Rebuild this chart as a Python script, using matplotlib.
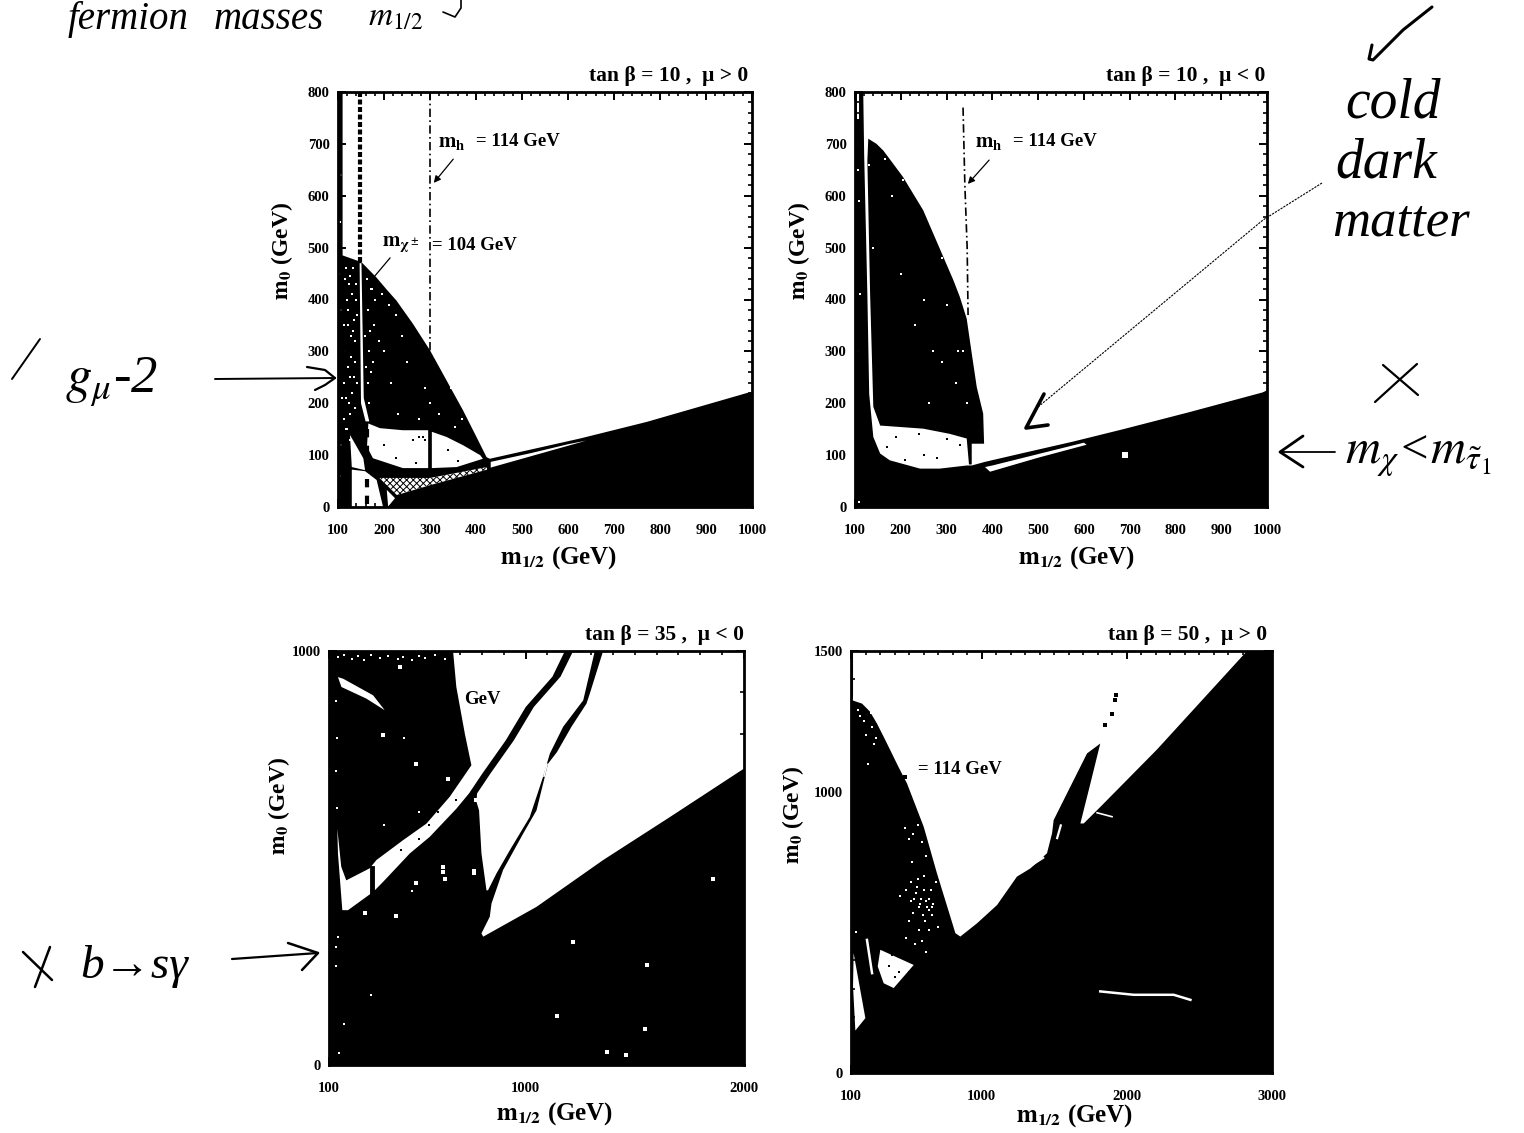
import matplotlib
matplotlib.use("Agg")
import matplotlib.pyplot as plt
from matplotlib.ticker import MultipleLocator, FixedLocator, NullFormatter

plt.rcParams['font.family'] = ['Liberation Serif', 'DejaVu Serif']
plt.rcParams['mathtext.fontset'] = 'stix'
plt.rcParams['hatch.linewidth'] = 0.7

WIDTH, HEIGHT = 1524, 1133

# panel A: tan beta = 10, mu > 0
a_black = [(100, 800), (110, 800), (110, 485), (151, 472), (183, 443), (205, 420), (227, 398), (263, 353),
           (300, 302), (336, 244), (372, 186), (401, 135), (423, 96), (430, 93), (626, 132),
           (771, 164), (990, 220), (1000, 222), (1000, 0), (100, 0)]
a_white_1 = [(166, 161), (191, 152), (241, 148), (296, 148), (296, 75), (241, 75), (176, 94), (163, 116)]
a_white_2 = [(304, 145), (336, 135), (372, 119), (409, 100), (415, 93), (358, 77), (304, 75)]
a_white_3 = [(126, 139), (155, 94), (159, 71), (130, 77)]
a_white_4 = [(130, 72), (159, 69), (184, 52), (198, 0), (130, 0)]
a_white_5 = [(206, 33), (224, 17), (209, 1)]
a_sliver = [(432, 76), (520, 98), (600, 118), (640, 128), (600, 121), (520, 104), (432, 87)]
a_strip = [(147, 470), (151, 470), (156, 210), (168, 165), (160, 165), (150, 200)]
a_hatch = [(190, 56), (300, 56), (424, 77), (424, 72), (300, 42), (228, 23)]
a_speck_x = [104, 106, 108, 105, 107, 103, 106, 118, 124, 130, 122, 135, 128, 116, 121, 138, 112, 126,
             118, 131, 136, 114, 140, 127, 119, 133, 172, 180, 195, 210, 178, 190, 225, 240, 262, 285,
             310, 330, 345, 300, 275, 215, 250, 172, 168, 370, 355, 230, 320, 290, 200, 262, 240, 340,
             115, 120, 125, 132, 137, 142, 113, 123, 129, 141, 117, 126, 134, 139, 122, 110, 105, 103,
             163, 166, 170, 175, 165, 168, 173, 158, 160]
a_speck_y = [60, 120, 210, 300, 380, 450, 640, 460, 430, 410, 380, 360, 330, 300, 270, 320, 240, 250,
             210, 220, 190, 170, 430, 180, 150, 460, 420, 400, 410, 390, 350, 320, 370, 330, 360, 340,
             290, 260, 230, 200, 170, 240, 280, 260, 300, 170, 155, 180, 180, 230, 300, 130, 120, 110,
             440, 400, 445, 340, 280, 240, 350, 200, 290, 370, 150, 130, 250, 400, 350, 700, 550, 100,
             440, 380, 340, 280, 240, 200, 420, 330, 270]
a_white_speck_x = [200, 262, 275, 290, 225, 340, 360, 270, 285]
a_white_speck_y = [120, 130, 135, 130, 95, 110, 88, 85, 135]

# panel B: tan beta = 10, mu < 0
b_black = [(100, 800), (118, 800), (120, 680), (127, 411), (131, 218), (140, 135), (155, 103),
           (176, 90), (242, 74), (285, 74), (344, 80), (355, 80), (384, 87), (467, 104), (576, 126),
           (686, 150), (831, 183), (991, 221), (1000, 225), (1000, 0), (100, 0)]
b_blob = [(129, 710), (147, 700), (162, 687), (184, 661), (205, 636), (227, 604), (249, 572), (271, 527),
          (293, 482), (315, 437), (329, 405), (344, 363), (355, 296), (366, 231), (380, 180), (382, 122),
          (355, 122), (355, 82), (349, 82), (344, 132), (307, 141), (249, 151), (155, 157), (140, 193),
          (133, 411), (127, 668)]
b_sliver = [(384, 77), (395, 68), (500, 95), (606, 120), (600, 124), (500, 102), (400, 80)]
b_hole_x = [689]
b_hole_y = [100]
b_white_speck_x = [107, 107, 108, 110, 107, 108, 300, 325, 250, 180, 270, 200, 262, 290, 130, 140,
                   230, 300, 335, 290, 205, 165, 320, 345]
b_white_speck_y = [700, 650, 590, 410, 300, 10, 500, 300, 400, 600, 300, 450, 200, 280, 660, 500,
                   350, 390, 300, 480, 630, 670, 240, 200]
b_black_speck_x = [190, 240, 300, 210, 280, 170, 330, 250]
b_black_speck_y = [135, 140, 132, 90, 95, 115, 120, 100]
b_mh_x = [336, 340, 345, 347]
b_mh_y = [770, 620, 500, 370]

# panel C: tan beta = 35, mu < 0
c_white_1 = [(668, 1000), (1180, 1000), (1123, 938), (1001, 865), (909, 784), (802, 704), (741, 656), (683, 619),
             (561, 551), (470, 511), (347, 442), (302, 418), (187, 374), (161, 374), (141, 511), (138, 571),
             (156, 479), (179, 446), (286, 475), (317, 495), (439, 543), (546, 583), (653, 648),
             (752, 724), (722, 800), (683, 913)]
c_white_2 = [(1218, 1000), (1317, 1000), (1264, 881), (1172, 817), (1111, 752), (1080, 696), (1050, 648),
             (1019, 599), (928, 519), (867, 463), (828, 422), (821, 422), (798, 511), (787, 615), (775, 636),
             (778, 656), (839, 704), (946, 784), (1038, 865), (1160, 938)]
c_white_3 = [(1355, 1000), (2000, 1000), (2000, 716), (1661, 599), (1355, 495), (1050, 382), (806, 310),
             (798, 318), (836, 358), (844, 390), (897, 471), (989, 559), (1050, 615), (1088, 696),
             (1103, 728), (1144, 756), (1210, 817), (1279, 873), (1294, 897)]
c_gap = [(1080, 696), (1088, 696), (1103, 728), (1095, 728)]
c_streak = [(141, 937), (157, 913), (271, 885), (355, 857), (302, 893), (165, 933)]
c_bar_x = [297, 297]
c_bar_y = [475, 418]
c_spot_x = [500, 347, 424, 645, 622, 762, 263, 1462, 1371, 1546, 1554, 1218, 1859, 1142,
            620, 630, 765, 775, 500, 405]
c_spot_y = [728, 796, 961, 692, 479, 463, 366, 24, 31, 88, 241, 298, 450, 118,
            465, 450, 468, 640, 440, 360]
c_fine_x = [140, 170, 205, 235, 260, 290, 335, 370, 415, 440, 480, 510, 540, 585, 630, 130, 135, 132, 138,
            130, 134, 290, 445, 510, 350, 480, 140, 170, 145]
c_fine_y = [985, 990, 980, 987, 978, 990, 982, 988, 980, 986, 979, 988, 982, 990, 980, 880, 790, 710, 620,
            285, 240, 170, 790, 610, 580, 420, 310, 100, 30]
c_dark_x = [450, 510, 560, 430, 600, 480, 510, 680, 660]
c_dark_y = [555, 545, 580, 520, 610, 500, 580, 640, 600]

# panel D: tan beta = 50, mu > 0
d_white = [(114, 1500), (2828, 1500), (2208, 1150), (1818, 946), (1703, 887), (1680, 887), (1749, 1029),
           (1817, 1171), (1726, 1136), (1588, 994), (1496, 899), (1485, 852), (1450, 781), (1335, 727),
           (1243, 698), (1106, 597), (968, 532), (853, 485), (819, 497), (784, 556), (692, 710),
           (601, 875), (486, 1029), (425, 1090), (371, 1147), (325, 1195), (279, 1242), (230, 1285), (176, 1313),
           (107, 1325), (114, 1340)]
d_tri = [(118, 426), (199, 195), (130, 151), (114, 308)]
d_patch = [(302, 438), (532, 384), (394, 302), (325, 319), (284, 379)]
d_thin_1_x = [210, 245]
d_thin_1_y = [473, 355]
d_thin_2_x = [1817, 2047, 2323, 2438]
d_thin_2_y = [290, 278, 278, 260]
d_thin_3_x = [1795, 1898]
d_thin_3_y = [925, 911]
d_thin_4_x = [1520, 1545]
d_thin_4_y = [835, 880]
d_thin_5_x = [1335, 1425]
d_thin_5_y = [735, 765]
d_dot_x = [1852, 1898, 1921, 1925, 474]
d_dot_y = [1236, 1277, 1325, 1345, 1053]
d_speck_x = [150, 190, 245, 275, 215, 470, 500, 530, 560, 590, 620, 480, 510, 545, 575, 605, 640, 660,
             500, 530, 570, 610, 640, 665, 540, 590, 620, 560, 600, 650, 520, 685, 700, 440, 480, 135,
             515, 555, 585, 625, 655, 535, 565, 595, 615, 635, 160, 205, 235, 260]
d_speck_y = [1290, 1250, 1230, 1190, 1100, 870, 830, 850, 880, 820, 770, 650, 610, 640, 600, 650, 620,
             590, 540, 570, 510, 540, 510, 600, 460, 470, 430, 690, 700, 650, 750, 680, 520, 630, 480, 500,
             680, 660, 620, 590, 560, 620, 590, 560, 610, 580, 1270, 1200, 1280, 1170]
d_white_speck_x = [360, 430, 400, 470, 380, 500]
d_white_speck_y = [380, 360, 340, 335, 420, 360]

# pixel boxes of the panels: left, top, right, bottom
box_a = (338, 92, 752, 507)
box_b = (855, 92, 1267, 507)
box_c = (329, 651, 744, 1065)
box_d = (851, 651, 1272, 1073)

# handwriting strokes, in pixels of the page
check_x = [1432, 1403, 1373, 1369, 1372]
check_y = [7, 30, 60, 59, 45]
cross_r1_x = [1383, 1418]
cross_r1_y = [365, 395]
cross_r2_x = [1417, 1397, 1375]
cross_r2_y = [364, 382, 402]
tau_arrow_x = [1335, 1280]
tau_arrow_y = [452, 452]
tau_head_x = [1303, 1280, 1303]
tau_head_y = [436, 452, 467]
g2_tick_x = [40, 12]
g2_tick_y = [339, 379]
g2_arrow_x = [215, 335]
g2_arrow_y = [379, 378]
g2_head_x = [307, 325, 335, 325, 315]
g2_head_y = [367, 370, 378, 385, 390]
cross_l1_x = [23, 52]
cross_l1_y = [952, 980]
cross_l2_x = [50, 35]
cross_l2_y = [947, 987]
bsg_arrow_x = [232, 318]
bsg_arrow_y = [959, 953]
bsg_head_x = [288, 318, 302]
bsg_head_y = [943, 953, 970]
cdm_x = [1322, 1263, 1038, 1027]
cdm_y = [183, 220, 407, 427]
cdm_head_x = [1044, 1026, 1048]
cdm_head_y = [394, 428, 425]
brace_x = [443, 455, 461, 461]
brace_y = [12, 17, 8, 0]


def make_axes(fig, box, xlim, ylim):
    left, top, right, bottom = box
    ax = fig.add_axes([left / WIDTH, 1 - bottom / HEIGHT, (right - left) / WIDTH, (bottom - top) / HEIGHT])
    ax.set_xlim(*xlim)
    ax.set_ylim(*ylim)
    for s in ax.spines.values():
        s.set_linewidth(2)
        s.set_zorder(20)
    ax.xaxis.set_zorder(20)
    ax.yaxis.set_zorder(20)
    ax.tick_params(which='major', direction='in', top=True, right=True, length=6, width=1.4, labelsize=10.5)
    ax.tick_params(axis='x', which='major', pad=12)
    ax.tick_params(axis='y', which='major', pad=6)
    ax.tick_params(which='minor', direction='in', top=True, right=True, length=3, width=1.2)
    return ax


def bold_ticks(ax):
    for t in ax.get_xticklabels() + ax.get_yticklabels():
        t.set_fontweight('bold')


def poly(ax, pts, color='k', z=2, **kw):
    ax.fill([p[0] for p in pts], [p[1] for p in pts], color=color, lw=0, zorder=z, **kw)


def specks(ax, xs, ys, color='w', size=2.0, z=5):
    ax.scatter(xs, ys, s=size, c=color, marker='s', linewidths=0, zorder=z)


fig = plt.figure(figsize=(WIDTH / 100, HEIGHT / 100), dpi=100, facecolor='white')

# --- panel A
ax = make_axes(fig, box_a, (100, 1000), (0, 800))
ax.xaxis.set_major_locator(MultipleLocator(100))
ax.xaxis.set_minor_locator(MultipleLocator(20))
ax.yaxis.set_major_locator(MultipleLocator(100))
ax.yaxis.set_minor_locator(MultipleLocator(20))
bold_ticks(ax)
poly(ax, a_black)
for w in (a_white_1, a_white_2, a_white_3, a_white_4, a_white_5, a_sliver, a_strip):
    poly(ax, w, 'w', 3)
ax.fill([p[0] for p in a_hatch], [p[1] for p in a_hatch], facecolor='w', edgecolor='k', hatch='xxxxx', lw=0, zorder=3)
specks(ax, a_speck_x, a_speck_y)
specks(ax, a_white_speck_x, a_white_speck_y, 'k')
ax.plot([147, 147], [800, 470], color='k', lw=3, ls=(0, (1.2, 0.6)), zorder=4)
ax.plot([163, 163], [150, 0], color='k', lw=3, ls=(0, (2, 2)), zorder=4)
ax.plot([300, 300], [800, 300], color='k', lw=1.2, ls=(0, (5, 2, 1, 2)), zorder=4)

# --- panel B
ax = make_axes(fig, box_b, (100, 1000), (0, 800))
ax.xaxis.set_major_locator(MultipleLocator(100))
ax.xaxis.set_minor_locator(MultipleLocator(20))
ax.yaxis.set_major_locator(MultipleLocator(100))
ax.yaxis.set_minor_locator(MultipleLocator(20))
bold_ticks(ax)
poly(ax, b_black)
poly(ax, b_blob)
poly(ax, b_sliver, 'w', 3)
specks(ax, b_hole_x, b_hole_y, size=22)
specks(ax, b_white_speck_x, b_white_speck_y)
specks(ax, b_black_speck_x, b_black_speck_y, 'k')
ax.plot([107, 107], [800, 750], color='w', lw=1.5, zorder=4)
ax.plot(b_mh_x, b_mh_y, color='k', lw=1.2, ls=(0, (5, 2, 1, 2)), zorder=4)

# --- panel C
ax = make_axes(fig, box_c, (100, 2000), (0, 1000))
ax.set_facecolor('k')
ax.xaxis.set_major_locator(FixedLocator([100, 1000, 2000]))
ax.xaxis.set_minor_locator(MultipleLocator(100))
ax.yaxis.set_major_locator(FixedLocator([0, 500, 1000]))
ax.yaxis.set_minor_locator(MultipleLocator(100))
ax.yaxis.set_ticklabels(['0', '', '1000'])
bold_ticks(ax)
for w in (c_white_1, c_white_2, c_white_3, c_gap, c_streak):
    poly(ax, w, 'w', 3)
ax.plot(c_bar_x, c_bar_y, color='k', lw=3.5, zorder=4)
specks(ax, c_spot_x, c_spot_y, size=6)
specks(ax, c_fine_x, c_fine_y, size=2.5)
specks(ax, c_dark_x, c_dark_y, 'k', size=2.5)

# --- panel D
ax = make_axes(fig, box_d, (100, 3000), (0, 1500))
ax.set_facecolor('k')
ax.xaxis.set_major_locator(FixedLocator([100, 1000, 2000, 3000]))
ax.xaxis.set_minor_locator(MultipleLocator(100))
ax.yaxis.set_major_locator(FixedLocator([0, 1000, 1500]))
ax.yaxis.set_minor_locator(MultipleLocator(100))
ax.yaxis.set_ticklabels(['0', '1000', '1500'])
ax.xaxis.set_minor_formatter(NullFormatter())
bold_ticks(ax)
poly(ax, d_white, 'w', 3)
poly(ax, d_tri, 'w', 3)
poly(ax, d_patch, 'w', 3)
for tx, ty, lw in ((d_thin_1_x, d_thin_1_y, 1.8), (d_thin_2_x, d_thin_2_y, 1.8), (d_thin_3_x, d_thin_3_y, 1.2),
                   (d_thin_4_x, d_thin_4_y, 1.6), (d_thin_5_x, d_thin_5_y, 1.4)):
    ax.plot(tx, ty, color='w', lw=lw, zorder=4)
specks(ax, d_dot_x, d_dot_y, 'k', size=12)
specks(ax, d_speck_x, d_speck_y, size=2.5)
specks(ax, d_white_speck_x, d_white_speck_y, 'k', size=2.5)

# --- everything else sits on a page sized overlay
page = fig.add_axes([0, 0, 1, 1], facecolor='none')
page.set_xlim(0, WIDTH)
page.set_ylim(HEIGHT, 0)
page.axis('off')


def label(x, y, s, size=12, ha='left', rotation=0):
    page.text(x, y, s, fontsize=size, ha=ha, va='center', rotation=rotation, fontweight='bold')


label(748, 76, 'tan β = 10 ,  μ > 0', 15.5, 'right')
label(1265, 76, 'tan β = 10 ,  μ < 0', 15.5, 'right')
label(744, 635, 'tan β = 35 ,  μ < 0', 15.5, 'right')
label(1267, 635, 'tan β = 50 ,  μ > 0', 15.5, 'right')

xlabel = r'$\mathbf{m_{1/2}}$ (GeV)'
ylabel = r'$\mathbf{m_0}$ (GeV)'
label(559, 558, xlabel, 18, 'center')
label(1077, 558, xlabel, 18, 'center')
label(555, 1114, xlabel, 18, 'center')
label(1075, 1116, xlabel, 18, 'center')
label(282, 251, ylabel, 17, 'center', 90)
label(799, 251, ylabel, 17, 'center', 90)
label(279, 806, ylabel, 17, 'center', 90)
label(793, 815, ylabel, 17, 'center', 90)

label(438, 142, r'$\mathbf{m_h}$', 15)
label(476, 141, '= 114 GeV', 13.5)
label(382, 245, r'$\mathbf{m_{\chi^\pm}}$', 15)
label(432, 245, '= 104 GeV', 13.5)
label(975, 142, r'$\mathbf{m_h}$', 15)
label(1013, 141, '= 114 GeV', 13.5)
label(464, 700, 'GeV', 13.5)
label(918, 770, '= 114 GeV', 13.5)

page.annotate('', xy=(432, 185), xytext=(455, 157), arrowprops=dict(arrowstyle='-|>', color='k', lw=0.9))
page.annotate('', xy=(966, 186), xytext=(991, 158), arrowprops=dict(arrowstyle='-|>', color='k', lw=0.9))
page.plot([390, 363], [258, 290], color='k', lw=0.9)

# handwriting
for sx, sy, lw in ((check_x, check_y, 2.2), (cross_r1_x, cross_r1_y, 1.6), (cross_r2_x, cross_r2_y, 1.6),
                   (tau_arrow_x, tau_arrow_y, 1.3), (tau_head_x, tau_head_y, 2), (g2_tick_x, g2_tick_y, 1.4),
                   (g2_arrow_x, g2_arrow_y, 1.4), (g2_head_x, g2_head_y, 1.6), (cross_l1_x, cross_l1_y, 1.8),
                   (cross_l2_x, cross_l2_y, 1.8), (bsg_arrow_x, bsg_arrow_y, 1.6), (bsg_head_x, bsg_head_y, 1.8),
                   (cdm_head_x, cdm_head_y, 2.6), (brace_x, brace_y, 1.2)):
    page.plot(sx, sy, color='k', lw=lw, solid_capstyle='round', solid_joinstyle='round')
page.plot(cdm_x, cdm_y, color='k', lw=0.8, ls=(0, (2, 1)))


def hand(x, y, s, size):
    page.text(x, y, s, fontsize=size, ha='left', va='baseline', fontstyle='italic')


hand(68, 29, 'fermion', 28)
hand(214, 29, 'masses', 28)
hand(368, 26, r'$m_{1/2}$', 24)
hand(1345, 117, 'cold', 40)
hand(1335, 178, 'dark', 40)
hand(1332, 236, 'matter', 38)
hand(1345, 463, r'$m_\chi$<$m_{\tilde{\tau}_1}$', 35)
hand(65, 392, r'$g_\mu$-2', 38)
hand(80, 978, 'b→sγ', 34)

fig.savefig('out.png', dpi=100)
